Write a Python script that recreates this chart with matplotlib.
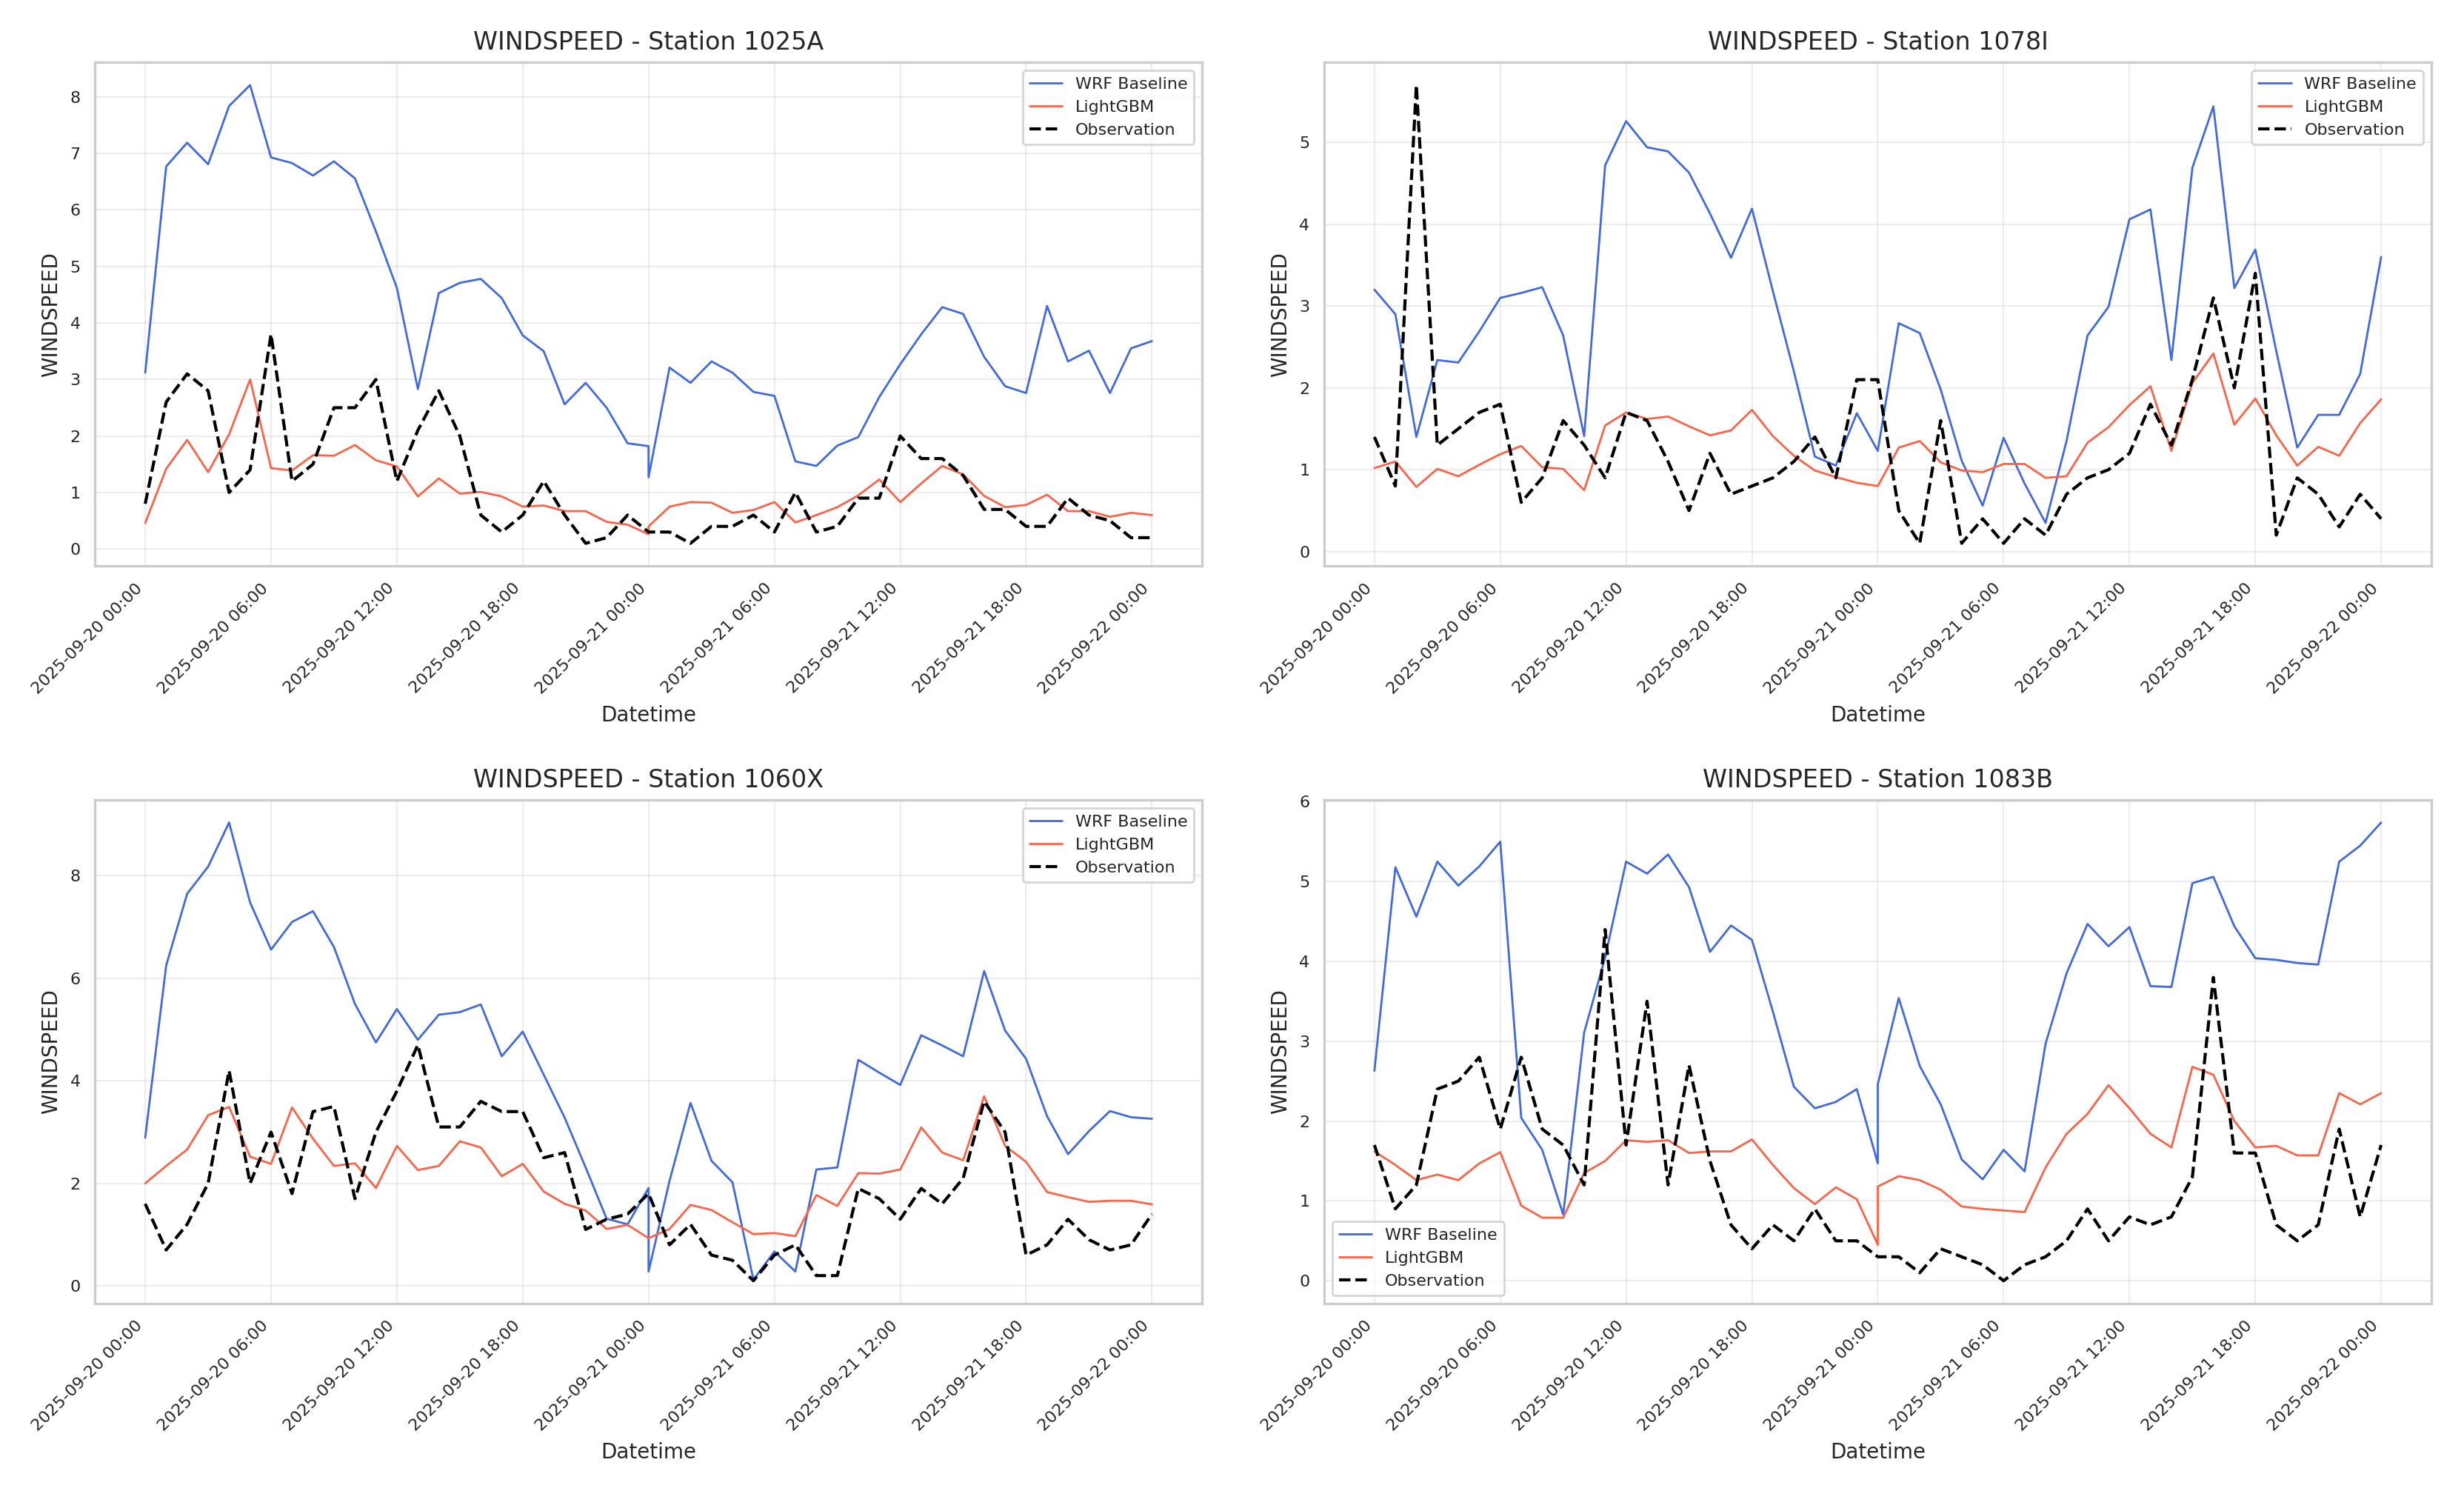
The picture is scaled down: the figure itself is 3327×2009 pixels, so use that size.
import numpy as np
import pandas as pd
import matplotlib
matplotlib.use("Agg")
import matplotlib.pyplot as plt
import matplotlib.dates as mdates
import seaborn as sns

sns.set_style("whitegrid")
plt.rcParams['font.family'] = ['DejaVu Sans']

# hourly timestamps, 2025-09-21 00:00 appears twice (two forecast runs joined)
hours = pd.date_range("2025-09-20 00:00", "2025-09-22 00:00", freq="h")
times = list(hours[:25]) + [hours[24]] + list(hours[25:])

stations = ["1025A", "1078I", "1060X", "1083B"]

wrf_1025A = [3.12, 6.77, 7.19, 6.81, 7.84, 8.21, 6.93, 6.83, 6.61, 6.86, 6.56, 5.62, 4.62, 2.83, 4.53, 4.71, 4.78,
             4.44, 3.78, 3.50, 2.56, 2.94, 2.50, 1.87, 1.82, 1.27, 3.21, 2.94, 3.32, 3.12, 2.78, 2.71, 1.55, 1.47,
             1.83, 1.98, 2.69, 3.27, 3.80, 4.28, 4.16, 3.40, 2.88, 2.76, 4.30, 3.32, 3.51, 2.76, 3.55, 3.68]
lgbm_1025A = [0.46, 1.42, 1.93, 1.36, 2.03, 3.00, 1.43, 1.39, 1.66, 1.65, 1.84, 1.57, 1.46, 0.93, 1.25, 0.98, 1.01,
              0.93, 0.75, 0.77, 0.67, 0.67, 0.48, 0.43, 0.26, 0.40, 0.75, 0.83, 0.82, 0.64, 0.69, 0.83, 0.47, 0.60,
              0.74, 0.95, 1.23, 0.83, 1.16, 1.47, 1.32, 0.94, 0.74, 0.78, 0.96, 0.67, 0.67, 0.57, 0.64, 0.60]
obs_1025A = [0.8, 2.6, 3.1, 2.8, 1.0, 1.4, 3.8, 1.2, 1.5, 2.5, 2.5, 3.0, 1.2, 2.1, 2.8, 2.0, 0.6, 0.3, 0.6, 1.2, 0.6,
             0.1, 0.2, 0.6, 0.3, 0.3, 0.3, 0.1, 0.4, 0.4, 0.6, 0.3, 1.0, 0.3, 0.4, 0.9, 0.9, 2.0, 1.6, 1.6, 1.3, 0.7,
             0.7, 0.4, 0.4, 0.9, 0.6, 0.5, 0.2, 0.2]

wrf_1078I = [3.20, 2.90, 1.40, 2.34, 2.31, 2.69, 3.10, 3.16, 3.23, 2.64, 1.41, 4.72, 5.26, 4.94, 4.89, 4.63, 4.13,
             3.59, 4.19, 3.18, 2.20, 1.16, 1.05, 1.69, 1.23, 1.23, 2.79, 2.67, 1.98, 1.11, 0.56, 1.39, 0.83, 0.35,
             1.35, 2.64, 2.99, 4.06, 4.18, 2.34, 4.69, 5.44, 3.22, 3.69, 2.45, 1.27, 1.67, 1.67, 2.17, 3.60]
lgbm_1078I = [1.02, 1.10, 0.79, 1.01, 0.92, 1.06, 1.19, 1.29, 1.03, 1.01, 0.75, 1.54, 1.70, 1.62, 1.65, 1.53, 1.42,
              1.48, 1.73, 1.41, 1.17, 0.99, 0.91, 0.84, 0.80, 0.80, 1.27, 1.35, 1.09, 0.99, 0.97, 1.07, 1.07, 0.90,
              0.92, 1.33, 1.52, 1.79, 2.02, 1.23, 2.06, 2.42, 1.55, 1.87, 1.42, 1.05, 1.28, 1.17, 1.57, 1.86]
obs_1078I = [1.4, 0.8, 5.7, 1.3, 1.5, 1.7, 1.8, 0.6, 0.9, 1.6, 1.3, 0.9, 1.7, 1.6, 1.1, 0.5, 1.2, 0.7, 0.8, 0.9, 1.1,
             1.4, 0.9, 2.1, 2.1, 2.1, 0.5, 0.1, 1.6, 0.1, 0.4, 0.1, 0.4, 0.2, 0.7, 0.9, 1.0, 1.2, 1.8, 1.3, 2.1, 3.1,
             2.0, 3.4, 0.2, 0.9, 0.7, 0.3, 0.7, 0.4]

wrf_1060X = [2.89, 6.25, 7.65, 8.18, 9.04, 7.48, 6.56, 7.10, 7.31, 6.61, 5.50, 4.75, 5.40, 4.80, 5.29, 5.34, 5.49,
             4.48, 4.96, 4.12, 3.28, 2.31, 1.31, 1.20, 1.91, 0.28, 2.05, 3.57, 2.44, 2.02, 0.12, 0.67, 0.28, 2.27,
             2.31, 4.41, 4.16, 3.92, 4.89, 4.69, 4.48, 6.14, 4.98, 4.43, 3.31, 2.57, 3.02, 3.41, 3.29, 3.26]
lgbm_1060X = [2.00, 2.34, 2.66, 3.33, 3.49, 2.52, 2.38, 3.48, 2.87, 2.34, 2.39, 1.91, 2.73, 2.26, 2.34, 2.82, 2.70,
              2.14, 2.38, 1.84, 1.60, 1.47, 1.11, 1.19, 0.93, 0.93, 1.11, 1.58, 1.48, 1.24, 1.01, 1.03, 0.97, 1.77,
              1.56, 2.20, 2.19, 2.27, 3.09, 2.60, 2.45, 3.70, 2.73, 2.42, 1.83, 1.73, 1.64, 1.66, 1.66, 1.59]
obs_1060X = [1.6, 0.7, 1.2, 2.0, 4.2, 2.0, 3.0, 1.8, 3.4, 3.5, 1.7, 3.0, 3.8, 4.7, 3.1, 3.1, 3.6, 3.4, 3.4, 2.5, 2.6,
             1.1, 1.3, 1.4, 1.8, 1.8, 0.8, 1.2, 0.6, 0.5, 0.1, 0.6, 0.8, 0.2, 0.2, 1.9, 1.7, 1.3, 1.9, 1.6, 2.1, 3.6,
             3.0, 0.6, 0.8, 1.3, 0.9, 0.7, 0.8, 1.4]

wrf_1083B = [2.63, 5.18, 4.56, 5.25, 4.95, 5.19, 5.50, 2.04, 1.64, 0.83, 3.11, 4.05, 5.25, 5.10, 5.34, 4.93, 4.12,
             4.45, 4.27, 3.37, 2.43, 2.16, 2.24, 2.40, 1.47, 2.46, 3.54, 2.69, 2.21, 1.52, 1.27, 1.64, 1.37, 2.97,
             3.85, 4.47, 4.19, 4.43, 3.69, 3.68, 4.98, 5.06, 4.44, 4.04, 4.02, 3.98, 3.96, 5.25, 5.45, 5.74]
lgbm_1083B = [1.62, 1.45, 1.26, 1.33, 1.26, 1.47, 1.61, 0.94, 0.79, 0.79, 1.35, 1.50, 1.76, 1.74, 1.76, 1.60, 1.62,
              1.62, 1.77, 1.45, 1.16, 0.96, 1.17, 1.02, 0.45, 1.18, 1.31, 1.26, 1.14, 0.93, 0.90, 0.88, 0.86, 1.42,
              1.84, 2.09, 2.45, 2.16, 1.84, 1.67, 2.68, 2.58, 2.00, 1.67, 1.69, 1.57, 1.57, 2.35, 2.21, 2.35]
obs_1083B = [1.7, 0.9, 1.2, 2.4, 2.5, 2.8, 1.9, 2.8, 1.9, 1.7, 1.2, 4.4, 1.7, 3.5, 1.2, 2.7, 1.5, 0.7, 0.4, 0.7, 0.5,
             0.9, 0.5, 0.5, 0.3, 0.3, 0.3, 0.1, 0.4, 0.3, 0.2, 0.0, 0.2, 0.3, 0.5, 0.9, 0.5, 0.8, 0.7, 0.8, 1.3, 3.8,
             1.6, 1.6, 0.7, 0.5, 0.7, 1.9, 0.8, 1.7]

wrf = {"1025A": wrf_1025A, "1078I": wrf_1078I, "1060X": wrf_1060X, "1083B": wrf_1083B}
lgbm = {"1025A": lgbm_1025A, "1078I": lgbm_1078I, "1060X": lgbm_1060X, "1083B": lgbm_1083B}
obs = {"1025A": obs_1025A, "1078I": obs_1078I, "1060X": obs_1060X, "1083B": obs_1083B}
legend_loc = {"1025A": "upper right", "1078I": "upper right", "1060X": "upper right", "1083B": "lower left"}

fig, axes = plt.subplots(2, 2, figsize=(16.635, 10.045), dpi=200)
fig.subplots_adjust(left=0.0385, right=0.9868, top=0.9582, bottom=0.1239, wspace=0.110, hspace=0.463)

for ax, st in zip(axes.flat, stations):
    ax.plot(times, wrf[st], color="royalblue", lw=1.0, label="WRF Baseline")
    ax.plot(times, lgbm[st], color="tomato", lw=1.0, label="LightGBM")
    ax.plot(times, obs[st], color="black", lw=1.5, ls="--", label="Observation")
    ax.set_title(f"WINDSPEED - Station {st}", fontsize=12)
    ax.set_xlabel("Datetime", fontsize=10)
    ax.set_ylabel("WINDSPEED", fontsize=10)
    ax.xaxis.set_major_locator(mdates.HourLocator(byhour=[0, 6, 12, 18]))
    ax.xaxis.set_major_formatter(mdates.DateFormatter("%Y-%m-%d %H:%M"))
    ax.tick_params(axis="both", labelsize=8)
    plt.setp(ax.get_xticklabels(), rotation=45, ha="right")
    ax.grid(True, alpha=0.35)
    for s in ax.spines.values():
        s.set_color("#cccccc")
        s.set_linewidth(1.2)
    ax.legend(loc=legend_loc[st], fontsize=8)

plt.savefig("out.png", dpi=200)
